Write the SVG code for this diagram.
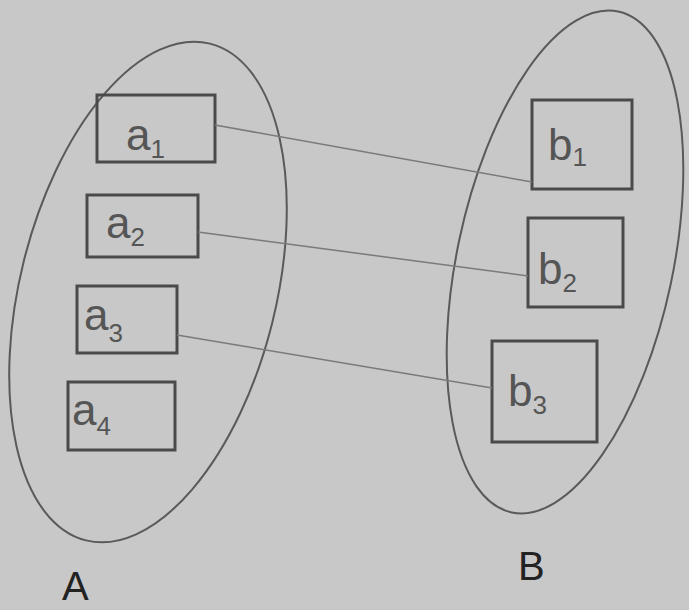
<svg xmlns="http://www.w3.org/2000/svg" width="689" height="610" viewBox="0 0 689 610">
<style>
.set{fill:none;stroke:#5a5a5a;stroke-width:2}
.box{fill:none;stroke:#4a4a4a;stroke-width:3}
.edge{fill:none;stroke:#7a7a7a;stroke-width:1.5}
.lbl{font-family:"Liberation Sans",Arial,sans-serif;fill:#555;font-size:44px}
.sub{font-size:26px}
.set-lbl{font-family:"Liberation Sans",Arial,sans-serif;fill:#222;font-size:40px}
</style>
<rect width="689" height="610" fill="#c8c8c8"/>
<g id="setA">
<ellipse class="set" cx="148" cy="292" rx="128" ry="256" transform="rotate(14 148 292)"/>
<text class="set-lbl" x="62" y="600">A</text>
</g>
<g id="setB">
<ellipse class="set" cx="565" cy="262" rx="108" ry="256" transform="rotate(12 565 262)"/>
<text class="set-lbl" x="518" y="580">B</text>
</g>
<g id="a1"><rect class="box" x="97" y="95" width="118" height="67"/><text class="lbl" x="126" y="150">a<tspan class="sub" dy="8">1</tspan></text></g>
<g id="a2"><rect class="box" x="87" y="195" width="111" height="62"/><text class="lbl" x="106" y="238">a<tspan class="sub" dy="8">2</tspan></text></g>
<g id="a3"><rect class="box" x="77" y="286" width="100" height="67"/><text class="lbl" x="84" y="330">a<tspan class="sub" dy="12">3</tspan></text></g>
<g id="a4"><rect class="box" x="68" y="382" width="107" height="68"/><text class="lbl" x="72" y="425">a<tspan class="sub" dy="10">4</tspan></text></g>
<g id="b1"><rect class="box" x="532" y="100" width="100" height="89"/><text class="lbl" x="548" y="160">b<tspan class="sub" dy="6">1</tspan></text></g>
<g id="b2"><rect class="box" x="528" y="218" width="95" height="89"/><text class="lbl" x="538" y="284">b<tspan class="sub" dy="8">2</tspan></text></g>
<g id="b3"><rect class="box" x="492" y="341" width="105" height="101"/><text class="lbl" x="508" y="406">b<tspan class="sub" dy="8">3</tspan></text></g>
<g id="connectors">
<line class="edge" x1="215" y1="125" x2="532" y2="182"/>
<line class="edge" x1="198" y1="232" x2="528" y2="276"/>
<line class="edge" x1="177" y1="335" x2="492" y2="388"/>
</g>
</svg>
